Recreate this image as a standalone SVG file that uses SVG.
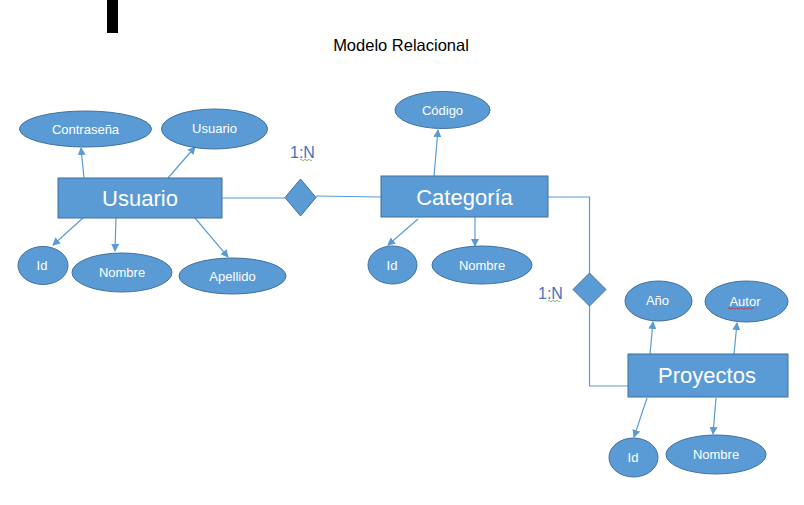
<svg xmlns="http://www.w3.org/2000/svg" width="804" height="505" viewBox="0 0 804 505">
<style>
.shape{fill:#5B9BD5;stroke:#41719C;stroke-width:1}
.big{font-family:"Liberation Sans",Arial,sans-serif;font-size:22px;fill:#fff;text-anchor:middle}
.small{font-family:"Liberation Sans",Arial,sans-serif;font-size:13px;fill:#fff;text-anchor:middle}
.card{font-family:"Liberation Sans",Arial,sans-serif;font-size:16px;fill:#4472C4}
.conn{stroke:#5B9BD5;stroke-width:1.2;fill:none}
.arr{stroke:#5B9BD5;stroke-width:1.2;fill:none;marker-end:url(#ah)}
</style>
<defs>
<marker id="ah" markerWidth="8" markerHeight="8" refX="7" refY="4" orient="auto" markerUnits="userSpaceOnUse">
<path d="M0,0 L8,4 L0,8 Z" fill="#5B9BD5"/>
</marker>
</defs>
<rect width="804" height="505" fill="#fff"/>
<rect x="107" y="0" width="11" height="33" fill="#000"/>
<text x="401" y="51" font-family="'Liberation Sans',Arial,sans-serif" font-size="16.5" text-anchor="middle" fill="#000">Modelo Relacional</text>

<g id="connectors">
<line class="arr" x1="84" y1="178" x2="81" y2="148"/>
<line class="arr" x1="168" y1="178" x2="195" y2="147"/>
<line class="arr" x1="83" y1="218" x2="53" y2="245"/>
<line class="arr" x1="116" y1="218" x2="115" y2="251"/>
<line class="arr" x1="195" y1="218" x2="228" y2="257"/>
<line class="conn" x1="222" y1="198" x2="285" y2="198"/>
<line class="conn" x1="316" y1="196" x2="381" y2="197"/>
<line class="arr" x1="434" y1="176" x2="438" y2="130"/>
<line class="arr" x1="418" y1="219" x2="388" y2="245"/>
<line class="arr" x1="475" y1="217" x2="475" y2="246"/>
<polyline class="conn" points="548,197 589.5,197 589.5,273"/>
<polyline class="conn" points="589.5,306 589.5,386 628,386"/>
<line class="arr" x1="650" y1="354" x2="653" y2="322"/>
<line class="arr" x1="734" y1="354" x2="737" y2="323"/>
<line class="arr" x1="647" y1="398" x2="634" y2="437"/>
<line class="arr" x1="716" y1="398" x2="713" y2="434"/>
</g>

<g id="usuario">
<rect class="shape" x="58" y="178" width="164" height="40"/>
<text class="big" x="140" y="206">Usuario</text>
</g>
<g id="u-contrasena">
<ellipse class="shape" cx="85.5" cy="129" rx="66" ry="18"/>
<text class="small" x="85.5" y="134">Contraseña</text>
</g>
<g id="u-usuario">
<ellipse class="shape" cx="214.5" cy="129" rx="53" ry="20"/>
<text class="small" x="214.5" y="133">Usuario</text>
</g>
<g id="u-id">
<ellipse class="shape" cx="43" cy="265.5" rx="25" ry="19"/>
<text class="small" x="42" y="270">Id</text>
</g>
<g id="u-nombre">
<ellipse class="shape" cx="122" cy="272.5" rx="50" ry="19.5"/>
<text class="small" x="122" y="277">Nombre</text>
</g>
<g id="u-apellido">
<ellipse class="shape" cx="232.5" cy="276" rx="53.5" ry="18"/>
<text class="small" x="232.5" y="281">Apellido</text>
</g>

<g id="rel1">
<polygon class="shape" points="300.5,179 316,197.5 300.5,216 285,197.5"/>
</g>
<g id="card1">
<text class="card" x="290" y="158">1:N</text>
<path d="M300,160 q1,-1.5 2,0 t2,0 t2,0 t2,0 t2,0 t2,0" stroke="#70AD47" stroke-width="0.8" fill="none"/>
</g>

<g id="categoria">
<rect class="shape" x="381" y="176" width="167" height="41"/>
<text class="big" x="464.5" y="205">Categoría</text>
</g>
<g id="c-codigo">
<ellipse class="shape" cx="442.5" cy="110" rx="47.5" ry="18.5"/>
<text class="small" x="442.5" y="115">Código</text>
</g>
<g id="c-id">
<ellipse class="shape" cx="392.5" cy="265" rx="24.5" ry="19"/>
<text class="small" x="392" y="270">Id</text>
</g>
<g id="c-nombre">
<ellipse class="shape" cx="482" cy="265" rx="50" ry="19"/>
<text class="small" x="482" y="270">Nombre</text>
</g>

<g id="rel2">
<polygon class="shape" points="589.5,273 606,289.5 589.5,306 573,289.5"/>
</g>
<g id="card2">
<text class="card" x="538" y="299">1:N</text>
<path d="M548,301 q1,-1.5 2,0 t2,0 t2,0 t2,0 t2,0 t2,0" stroke="#70AD47" stroke-width="0.8" fill="none"/>
</g>

<g id="proyectos">
<rect class="shape" x="628" y="354" width="160" height="43"/>
<text class="big" x="707" y="383">Proyectos</text>
</g>
<g id="p-ano">
<ellipse class="shape" cx="658.5" cy="301" rx="33.5" ry="20"/>
<text class="small" x="657.5" y="305">Año</text>
</g>
<g id="p-autor">
<ellipse class="shape" cx="746.5" cy="301.5" rx="41.5" ry="20.5"/>
<text class="small" x="745" y="306">Autor</text>
<path d="M728,308.5 q1,-1.5 2,0 t2,0 t2,0 t2,0 t2,0 t2,0 t2,0 t2,0 t2,0 t2,0 t2,0 t2,0 t2,0" stroke="#E02020" stroke-width="0.8" fill="none"/>
</g>
<g id="p-id">
<ellipse class="shape" cx="633.5" cy="457.5" rx="24.5" ry="19.5"/>
<text class="small" x="633" y="462">Id</text>
</g>
<g id="p-nombre">
<ellipse class="shape" cx="716" cy="454.5" rx="50" ry="19.5"/>
<text class="small" x="716" y="459">Nombre</text>
</g>
</svg>
